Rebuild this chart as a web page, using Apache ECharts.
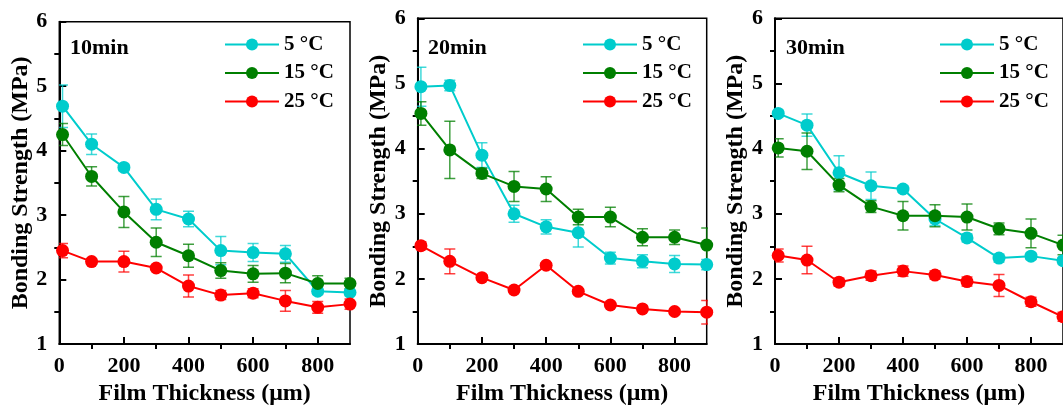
<!DOCTYPE html>
<html>
<head>
<meta charset="utf-8">
<script src="https://cdn.jsdelivr.net/npm/echarts@6/dist/echarts.min.js"></script>
<style>
html,body{margin:0;padding:0;background:#fff;}
#chart{width:1063px;height:411px;}
</style>
</head>
<body>
<div id="chart"></div>
<script>
// ---- data ----
const thickness = [10, 100, 200, 300, 400, 500, 600, 700, 800, 900];
const seriesNames = ['5 °C', '15 °C', '25 °C'];
const panelTitles = ['10min', '20min', '30min'];
const xTickLabels = ['0', '100', '200', '300', '400', '500', '600', '700', '800', '900'];
const yTickLabels = ['1', '1.5', '2', '2.5', '3', '3.5', '4', '4.5', '5', '5.5', '6'];

// 10 min
const p1_5C  = [4.69, 4.10, 3.74, 3.09, 2.94, 2.45, 2.42, 2.40, 1.82, 1.80];
const p1_5C_err  = [0.33, 0.16, 0.05, 0.16, 0.12, 0.22, 0.14, 0.13, 0.05, 0.05];
const p1_15C = [4.25, 3.60, 3.05, 2.58, 2.37, 2.14, 2.09, 2.10, 1.94, 1.94];
const p1_15C_err = [0.17, 0.15, 0.24, 0.22, 0.18, 0.12, 0.13, 0.15, 0.12, 0.08];
const p1_25C = [2.45, 2.28, 2.28, 2.18, 1.90, 1.76, 1.79, 1.67, 1.57, 1.62];
const p1_25C_err = [0.11, 0.04, 0.16, 0.04, 0.17, 0.07, 0.07, 0.16, 0.09, 0.08];

// 20 min
const p2_5C  = [4.95, 4.97, 3.90, 3.00, 2.80, 2.71, 2.32, 2.27, 2.23, 2.22];
const p2_5C_err  = [0.30, 0.08, 0.19, 0.13, 0.11, 0.22, 0.09, 0.10, 0.13, 0.08];
const p2_15C = [4.54, 3.98, 3.62, 3.42, 3.38, 2.95, 2.95, 2.64, 2.64, 2.52];
const p2_15C_err = [0.18, 0.44, 0.08, 0.23, 0.19, 0.12, 0.15, 0.13, 0.11, 0.26];
const p2_25C = [2.51, 2.27, 2.02, 1.83, 2.21, 1.81, 1.60, 1.54, 1.50, 1.49];
const p2_25C_err = [0.06, 0.19, 0.04, 0.04, 0.04, 0.04, 0.04, 0.04, 0.04, 0.18];

// 30 min
const p3_5C  = [4.54, 4.36, 3.63, 3.43, 3.38, 2.92, 2.63, 2.32, 2.35, 2.28];
const p3_5C_err  = [0.05, 0.17, 0.26, 0.21, 0.05, 0.10, 0.06, 0.06, 0.05, 0.05];
const p3_15C = [4.01, 3.96, 3.44, 3.11, 2.97, 2.97, 2.95, 2.77, 2.70, 2.52];
const p3_15C_err = [0.14, 0.28, 0.10, 0.09, 0.22, 0.17, 0.20, 0.09, 0.22, 0.15];
const p3_25C = [2.36, 2.29, 1.95, 2.05, 2.12, 2.06, 1.96, 1.90, 1.65, 1.42];
const p3_25C_err = [0.10, 0.21, 0.06, 0.07, 0.08, 0.06, 0.07, 0.17, 0.07, 0.07];

const panels = [
  { vals: [p1_5C, p1_15C, p1_25C], errs: [p1_5C_err, p1_15C_err, p1_25C_err] },
  { vals: [p2_5C, p2_15C, p2_25C], errs: [p2_5C_err, p2_15C_err, p2_25C_err] },
  { vals: [p3_5C, p3_15C, p3_25C], errs: [p3_5C_err, p3_15C_err, p3_25C_err] }
];

// ---- layout / style ----
const colors = ['#00CCCC', '#007F00', '#FF0000'];
const FONT = '"Times New Roman", "Liberation Serif", serif';
const grids = [
  { left: 59.3, top: 21.7, width: 290.7, height: 327.3 },
  { left: 417.7, top: 18.3, width: 289, height: 327.4 },
  { left: 775, top: 18.3, width: 289.5, height: 327.4 }
];
const legendPos = [
  { left: 224, top: 34 },
  { left: 582, top: 34 },
  { left: 939, top: 34 }
];
const titlePos = [
  { left: 70, top: 37 },
  { left: 428, top: 37 },
  { left: 786, top: 37 }
];

const option = {
  animation: false,
  backgroundColor: '#fff',
  title: [], legend: [], grid: [], xAxis: [], yAxis: [], series: []
};

panels.forEach((p, pi) => {
  option.grid.push(Object.assign({ show: true, borderColor: '#000', borderWidth: 1.5, backgroundColor: 'transparent', containLabel: false }, grids[pi]));
  option.title.push({
    text: panelTitles[pi], left: titlePos[pi].left, top: titlePos[pi].top, padding: 0,
    textStyle: { fontFamily: FONT, fontWeight: 'bold', fontSize: 22, color: '#000' }
  });
  option.legend.push({
    data: seriesNames, orient: 'vertical', left: legendPos[pi].left, top: legendPos[pi].top,
    padding: 0, itemWidth: 54, itemHeight: 15, itemGap: 7.5,
    textStyle: { fontFamily: FONT, fontWeight: 'bold', fontSize: 21, color: '#000' },
    selectedMode: false
  });
  // main value axes
  option.xAxis.push({
    type: 'value', gridIndex: pi, position: 'bottom', min: 0, max: 900, interval: 200,
    name: 'Film Thickness (μm)', nameLocation: 'middle', nameGap: 36,
    nameTextStyle: { fontFamily: FONT, fontWeight: 'bold', fontSize: 24, color: '#000' },
    axisLine: { show: true, onZero: false, lineStyle: { color: '#000', width: 2 } },
    axisTick: { show: true, inside: true, length: 7, lineStyle: { color: '#000', width: 2 } },
    axisLabel: { show: true, margin: 11, showMaxLabel: false, fontFamily: FONT, fontWeight: 'bold', fontSize: 22, color: '#000' },
    splitLine: { show: false }
  });
  // minor (outward) ticks
  option.xAxis.push({
    type: 'category', gridIndex: pi, position: 'bottom', data: xTickLabels, boundaryGap: false,
    axisLine: { show: false, onZero: false },
    axisTick: { show: true, inside: false, length: 5, interval: (i) => i % 2 === 1 && i < xTickLabels.length - 1, lineStyle: { color: '#000', width: 2 } },
    axisLabel: { show: false }, splitLine: { show: false }
  });
  option.yAxis.push({
    type: 'value', gridIndex: pi, position: 'left', min: 1, max: 6, interval: 1,
    name: 'Bonding Strength (MPa)', nameLocation: 'middle', nameGap: 27,
    nameTextStyle: { fontFamily: FONT, fontWeight: 'bold', fontSize: 24, color: '#000' },
    axisLine: { show: true, onZero: false, lineStyle: { color: '#000', width: 2 } },
    axisTick: { show: true, inside: true, length: 7, lineStyle: { color: '#000', width: 2 } },
    axisLabel: { show: true, margin: 12, fontFamily: FONT, fontWeight: 'bold', fontSize: 22, color: '#000' },
    splitLine: { show: false }
  });
  option.yAxis.push({
    type: 'category', gridIndex: pi, position: 'left', data: yTickLabels, boundaryGap: false,
    axisLine: { show: false, onZero: false },
    axisTick: { show: true, inside: false, length: 5, interval: (i) => i % 2 === 1, lineStyle: { color: '#000', width: 2 } },
    axisLabel: { show: false }, splitLine: { show: false }
  });

  const xi = pi * 2, yi = pi * 2;
  p.vals.forEach((vals, si) => {
    const errData = thickness.map((x, k) => [x, vals[k], p.errs[si][k]]);
    option.series.push({
      type: 'custom', name: 'err' + pi + si, xAxisIndex: xi, yAxisIndex: yi, z: 1,
      data: errData, clip: true,
      renderItem: (params, api) => {
        const x = api.value(0), y = api.value(1), e = api.value(2);
        const t = api.coord([x, y + e]), b = api.coord([x, y - e]);
        const hw = 5.5;
        const st = { stroke: colors[si], lineWidth: 1.5, opacity: 0.75 };
        return {
          type: 'group', children: [
            { type: 'line', shape: { x1: t[0], y1: t[1], x2: b[0], y2: b[1] }, style: st },
            { type: 'line', shape: { x1: t[0] - hw, y1: t[1], x2: t[0] + hw, y2: t[1] }, style: st },
            { type: 'line', shape: { x1: b[0] - hw, y1: b[1], x2: b[0] + hw, y2: b[1] }, style: st }
          ]
        };
      }
    });
    option.series.push({
      type: 'line', name: seriesNames[si], xAxisIndex: xi, yAxisIndex: yi, z: 2,
      data: thickness.map((x, k) => [x, vals[k]]),
      symbol: 'circle', symbolSize: 13,
      itemStyle: { color: colors[si] },
      lineStyle: { color: colors[si], width: 2 },
      clip: true
    });
  });
});

const chart = echarts.init(document.getElementById('chart'), null, { renderer: 'canvas' });
chart.setOption(option);
</script>
</body>
</html>
